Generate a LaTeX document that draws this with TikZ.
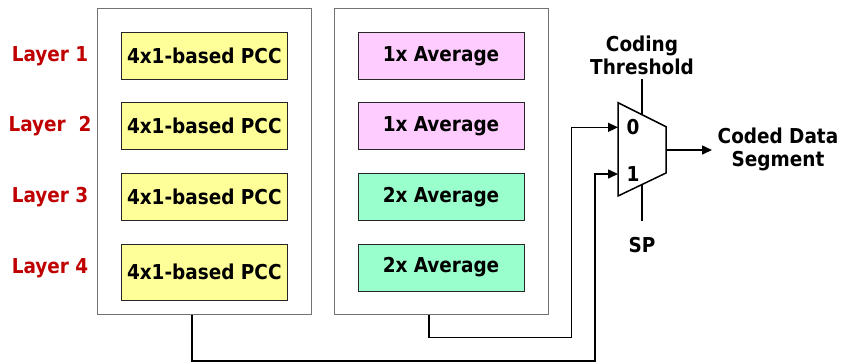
\documentclass[tikz,border=0pt]{standalone}
\usepackage{fontspec}
\setmainfont{DejaVu Sans Condensed}
\usetikzlibrary{arrows.meta}
\definecolor{pccyellow}{HTML}{FFFF99}
\definecolor{avgpink}{HTML}{FFCCFF}
\definecolor{avggreen}{HTML}{99FFCC}
\definecolor{layerred}{HTML}{C00000}
\begin{document}
\begin{tikzpicture}[x=1bp,y=-1bp,
  txt/.style={font=\fontsize{20.5bp}{23bp}\selectfont\bfseries, align=center},
  group/.style={draw=black!55, line width=1bp, inner sep=0pt, minimum width=214bp, minimum height=306bp},
  unit/.style={draw=black!85, line width=1bp, inner sep=0pt, minimum width=166bp, minimum height=47bp, txt},
  layer/.style={txt, text=layerred},
  conn/.style={line width=1.5bp},
  arr/.style={conn, -{Triangle[length=10bp,width=9bp]}}]
\useasboundingbox (0,0) rectangle (844,363);

% two groups of processing units
\node[group] (lbox) at (204,161) {};
\node[group] (rbox) at (441,161) {};

% layer labels
\node[layer] (l1) at (50,56.5)  {Layer 1};
\node[layer] (l2) at (50,126.5) {Layer\ \ 2};
\node[layer] (l3) at (50,197.5) {Layer 3};
\node[layer] (l4) at (50,268.5) {Layer 4};

% PCC units
\node[unit, fill=pccyellow] (p1) at (204.3,55.8)  {4x1-based PCC};
\node[unit, fill=pccyellow] (p2) at (204.3,126.3) {4x1-based PCC};
\node[unit, fill=pccyellow] (p3) at (204.3,197)   {4x1-based PCC};
\node[unit, fill=pccyellow, minimum height=56bp] (p4) at (204.3,272) {4x1-based PCC};

% averaging units
\node[unit, fill=avgpink]  (a1) at (441,55.8)  {1x Average};
\node[unit, fill=avgpink]  (a2) at (441,126.3) {1x Average};
\node[unit, fill=avggreen] (a3) at (441,197)   {2x Average};
\node[unit, fill=avggreen] (a4) at (441,267.5) {2x Average};

% multiplexer
\coordinate (muxTL) at (618,102.7);
\coordinate (muxTR) at (666,126.7);
\coordinate (muxBR) at (666,173);
\coordinate (muxBL) at (618,196);
\draw[line width=1.5bp, line join=miter] (muxTL) -- (muxTR) -- (muxBR) -- (muxBL) -- cycle;
\coordinate (in0) at (618,127.3);
\coordinate (in1) at (618,174);
\coordinate (out) at (666,150);
\node[txt, inner sep=0pt] (s0) at (633,127.5) {0};
\node[txt, inner sep=0pt] (s1) at (633,174.5) {1};

% select inputs
\node[txt] (thr) at (642,55.5) {Coding\\Threshold};
\coordinate (thrEnd) at (642,79);
\coordinate (thrIn) at (642,114.7);
\draw[conn] (thrEnd) -- (thrIn);
\node[txt] (sp) at (642,245) {SP};
\coordinate (spEnd) at (642,221);
\coordinate (spIn) at (642,184.5);
\draw[conn] (spIn) -- (spEnd);

% output
\coordinate (outEnd) at (712,150);
\draw[arr] (out) -- (outEnd);
\node[txt] (res) at (778,149.5) {Coded Data\\Segment};

% data paths into the multiplexer
\draw[arr] ([xshift=-12bp]rbox.south) |- (571.7,337.7) |- (in0);
\draw[arr] ([xshift=-12bp]lbox.south) |- (595,361) |- (in1);
\end{tikzpicture}
\end{document}
